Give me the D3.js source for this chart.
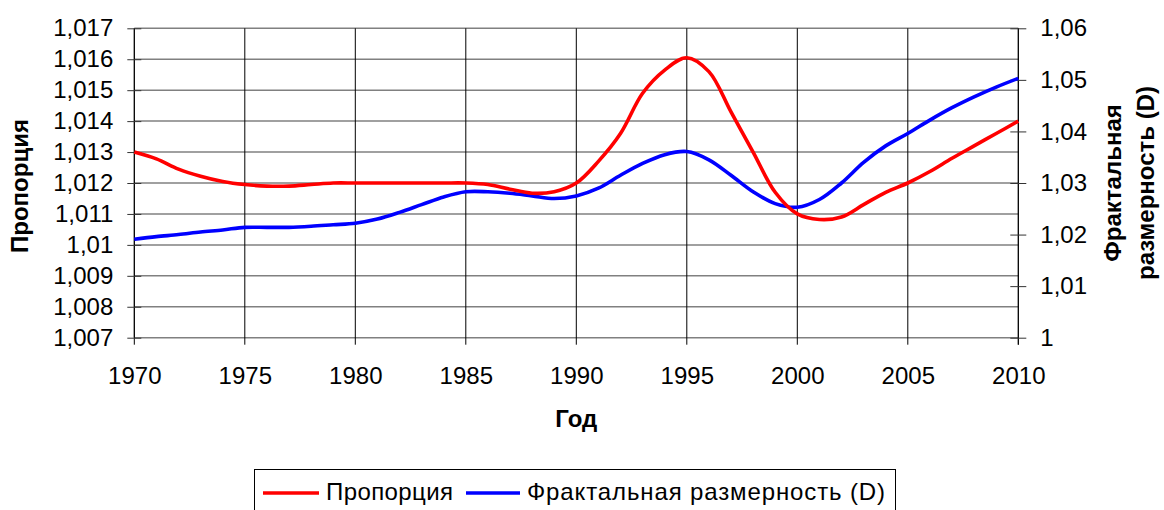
<!DOCTYPE html>
<html>
<head>
<meta charset="utf-8">
<script src="https://cdn.jsdelivr.net/npm/d3@7"></script>
<style>
  body { margin: 0; background: #fff; }
  svg { display: block; }
  text { font-family: "Liberation Sans", Arial, sans-serif; fill: #000; }
</style>
</head>
<body>
<svg id="chart" width="1164" height="510"></svg>
<script>
// ---- data ----
const years = [1970,1971,1972,1973,1974,1975,1976,1977,1978,1979,1980,1981,1982,1983,1984,1985,1986,1987,1988,1989,1990,
               1991,1992,1993,1994,1995,1996,1997,1998,1999,2000,2001,2002,2003,2004,2005,2006,2007,2008,2009,2010];
const proportion = [1.0130,1.01278,1.01245,1.01222,1.01205,1.01195,1.0119,1.0119,1.01195,1.012,1.012,1.012,1.012,1.012,1.012,1.012,1.01195,1.0118,1.01167,1.01172,1.012,
                    1.0127,1.0136,1.0149,1.01565,1.01605,1.0156,1.0143,1.0130,1.0117,1.0110,1.01082,1.0109,1.0113,1.0117,1.0120,1.01237,1.0128,1.0132,1.0136,1.0140];
const fractalD = [1.0191,1.0196,1.0200,1.0205,1.0209,1.0214,1.0214,1.0214,1.0216,1.0219,1.0222,1.0230,1.0243,1.0258,1.0273,1.0283,1.0283,1.0280,1.0275,1.0270,1.0275,
                  1.0290,1.0315,1.0338,1.0355,1.0361,1.0345,1.0315,1.0283,1.0260,1.0253,1.0268,1.0300,1.0340,1.0372,1.0396,1.0422,1.0446,1.0467,1.0486,1.0503];
const xTicks = [1970,1975,1980,1985,1990,1995,2000,2005,2010];
const leftTicks = [1.007,1.008,1.009,1.010,1.011,1.012,1.013,1.014,1.015,1.016,1.017];
const leftTickLabels = ["1,007","1,008","1,009","1,01","1,011","1,012","1,013","1,014","1,015","1,016","1,017"];
const rightTicks = [1.00,1.01,1.02,1.03,1.04,1.05,1.06];
const rightTickLabels = ["1","1,01","1,02","1,03","1,04","1,05","1,06"];
const seriesNames = ["Пропорция","Фрактальная размерность (D)"];
const seriesColors = ["#ff0000","#0000ff"];
const xTitle = "Год";
const yLeftTitle = "Пропорция";
const yRightTitleLines = ["Фрактальная","размерность (D)"];

// ---- layout ----
const pLeft = 134.3, pRight = 1018.3, pTop = 28.3, pBottom = 337.7;
const svg = d3.select("#chart");
const x = d3.scaleLinear().domain([1970, 2010]).range([pLeft, pRight]);
const yL = d3.scaleLinear().domain([1.007, 1.017]).range([pBottom, pTop]);
const yR = d3.scaleLinear().domain([1.00, 1.06]).range([pBottom, pTop]);

// horizontal gridlines
svg.append("g").selectAll("line").data(leftTicks).join("line")
  .attr("x1", pLeft).attr("x2", pRight)
  .attr("y1", d => yL(d)).attr("y2", d => yL(d))
  .attr("stroke", "#808080").attr("stroke-width", 1.5);

// vertical gridlines
svg.append("g").selectAll("line").data(xTicks).join("line")
  .attr("x1", d => x(d)).attr("x2", d => x(d))
  .attr("y1", pTop).attr("y2", pBottom + 7)
  .attr("stroke", "#000").attr("stroke-width", 1);

// left axis
const gL = svg.append("g").attr("transform", `translate(${pLeft},0)`)
  .call(d3.axisLeft(yL).tickValues(leftTicks).tickFormat((d,i) => leftTickLabels[i])
        .tickSizeInner(7).tickSizeOuter(0).tickPadding(14));
gL.select(".domain").attr("stroke", "#000").attr("d", `M0,${pTop}V${pBottom}`);
gL.selectAll(".tick line").attr("x1", -7).attr("x2", 7).attr("stroke", "#333");
gL.selectAll(".tick text").attr("font-size", 24).attr("font-family", "Liberation Sans, Arial, sans-serif");

// right axis
const gR = svg.append("g").attr("transform", `translate(${pRight},0)`)
  .call(d3.axisRight(yR).tickValues(rightTicks).tickFormat((d,i) => rightTickLabels[i])
        .tickSizeInner(8).tickSizeOuter(0).tickPadding(14));
gR.select(".domain").attr("stroke", "#000").attr("d", `M0,${pTop}V${pBottom + 7}`);
gR.selectAll(".tick line").attr("x1", -8).attr("x2", 8).attr("stroke", "#333");
gR.selectAll(".tick text").attr("font-size", 24).attr("font-family", "Liberation Sans, Arial, sans-serif");

// bottom axis (labels only; gridlines act as ticks)
const gB = svg.append("g").attr("transform", `translate(0,${pBottom})`)
  .call(d3.axisBottom(x).tickValues(xTicks).tickFormat(d3.format("d"))
        .tickSizeInner(7).tickSizeOuter(0).tickPadding(22));
gB.select(".domain").remove();
gB.selectAll(".tick line").remove();
gB.selectAll(".tick text").attr("font-size", 24).attr("font-family", "Liberation Sans, Arial, sans-serif");

// lines
const lineL = d3.line().x((d,i) => x(years[i])).y(d => yL(d)).curve(d3.curveCatmullRom.alpha(0.5));
const lineR = d3.line().x((d,i) => x(years[i])).y(d => yR(d)).curve(d3.curveCatmullRom.alpha(0.5));
svg.append("path").attr("d", lineR(fractalD)).attr("fill", "none")
  .attr("stroke", seriesColors[1]).attr("stroke-width", 3.6).attr("stroke-linejoin", "round");
svg.append("path").attr("d", lineL(proportion)).attr("fill", "none")
  .attr("stroke", seriesColors[0]).attr("stroke-width", 3.6).attr("stroke-linejoin", "round");

// titles
svg.append("text").attr("x", (pLeft + pRight) / 2).attr("y", 427)
  .attr("text-anchor", "middle").attr("font-size", 24).attr("font-weight", "bold").text(xTitle);
svg.append("text").attr("transform", "translate(28,186) rotate(-90)")
  .attr("text-anchor", "middle").attr("font-size", 24).attr("font-weight", "bold").text(yLeftTitle);
const rt = svg.append("text").attr("transform", "translate(1121,183) rotate(-90)")
  .attr("text-anchor", "middle").attr("font-size", 24).attr("font-weight", "bold");
rt.selectAll("tspan").data(yRightTitleLines).join("tspan")
  .attr("x", 0).attr("dy", (d,i) => i === 0 ? 0 : 33).text(d => d);

// legend
svg.append("rect").attr("x", 254.5).attr("y", 469.5).attr("width", 641).attr("height", 60)
  .attr("fill", "#fff").attr("stroke", "#000").attr("stroke-width", 1);
const legendItems = [
  {lx1: 263, lx2: 319, tx: 326, tw: 127},
  {lx1: 466, lx2: 520, tx: 527, tw: 358}
];
const lg = svg.append("g").selectAll("g").data(seriesNames).join("g");
lg.append("line")
  .attr("x1", (d,i) => legendItems[i].lx1).attr("x2", (d,i) => legendItems[i].lx2)
  .attr("y1", 493).attr("y2", 493)
  .attr("stroke", (d,i) => seriesColors[i]).attr("stroke-width", 3.6);
lg.append("text").attr("x", (d,i) => legendItems[i].tx).attr("y", 499.5)
  .attr("font-size", 24)
  .attr("textLength", (d,i) => legendItems[i].tw).attr("lengthAdjust", "spacing")
  .text(d => d);
</script>
</body>
</html>
